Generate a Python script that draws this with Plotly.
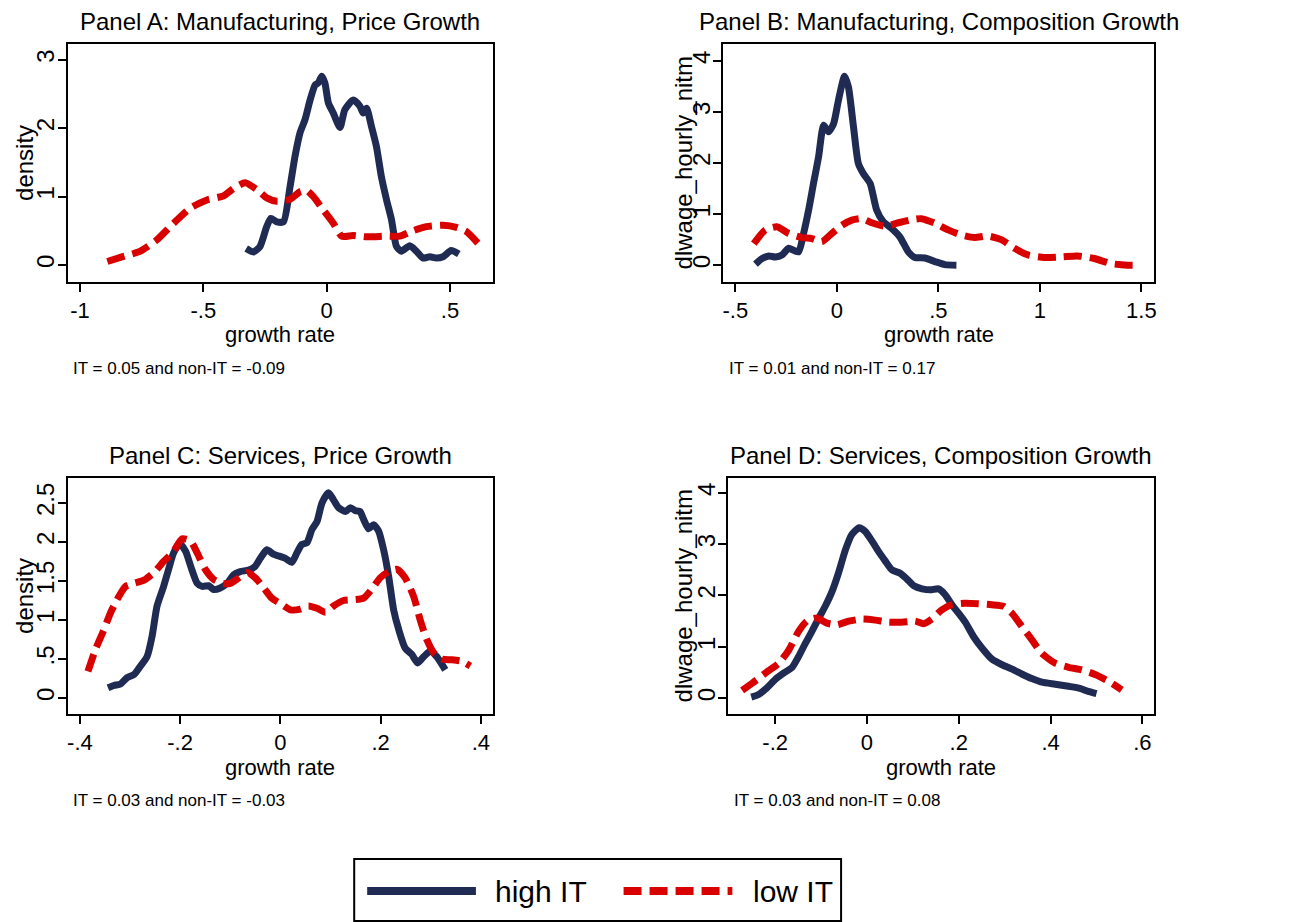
import plotly.graph_objects as go

navy = "#1f2b52"
red = "#d90000"
font = "Liberation Sans, Arial, sans-serif"

# Panel A: Manufacturing, Price Growth
a_hi_x = [-0.326, -0.296, -0.27, -0.243, -0.226, -0.202, -0.175, -0.148, -0.128, -0.108, -0.088, -0.067,
          -0.047, -0.034, -0.02, -0.007, 0.007, 0.027, 0.054, 0.074, 0.108, 0.135, 0.148, 0.162, 0.182,
          0.202, 0.222, 0.243, 0.263, 0.283, 0.303, 0.337, 0.364, 0.391, 0.418, 0.445, 0.472, 0.505, 0.536]
a_hi_y = [0.24, 0.19, 0.27, 0.56, 0.68, 0.63, 0.63, 1.15, 1.59, 1.93, 2.12, 2.41,
          2.63, 2.66, 2.76, 2.66, 2.37, 2.22, 2.01, 2.27, 2.41, 2.32, 2.22, 2.29, 2.02,
          1.73, 1.29, 0.95, 0.66, 0.27, 0.2, 0.28, 0.2, 0.1, 0.12, 0.1, 0.12, 0.21, 0.16]
a_lo_x = [-0.889, -0.836, -0.755, -0.687, -0.62, -0.553, -0.485, -0.418, -0.377, -0.33, -0.283, -0.243,
          -0.202, -0.148, -0.108, -0.081, -0.054, -0.013, 0.027, 0.061, 0.108, 0.162, 0.243, 0.296,
          0.35, 0.404, 0.472, 0.526, 0.566, 0.613]
a_lo_y = [0.05, 0.11, 0.2, 0.37, 0.61, 0.83, 0.95, 1.01, 1.12, 1.2, 1.1, 0.98,
          0.93, 0.96, 1.07, 1.09, 1.0, 0.8, 0.61, 0.42, 0.43, 0.41, 0.42, 0.42,
          0.5, 0.56, 0.58, 0.55, 0.49, 0.32]

# Panel B: Manufacturing, Composition Growth
b_hi_x = [-0.401, -0.368, -0.335, -0.303, -0.27, -0.237, -0.213, -0.188, -0.164, -0.139, -0.115, -0.09,
          -0.065, -0.041, -0.016, 0.008, 0.038, 0.057, 0.082, 0.106, 0.131, 0.164, 0.196, 0.229, 0.27,
          0.311, 0.352, 0.384, 0.434, 0.483, 0.532, 0.589]
b_hi_y = [0.02, 0.13, 0.18, 0.16, 0.2, 0.33, 0.29, 0.26, 0.62, 1.08, 1.6, 2.12,
          2.74, 2.61, 2.77, 3.23, 3.7, 3.49, 2.71, 1.99, 1.79, 1.6, 1.08, 0.85, 0.72,
          0.55, 0.26, 0.15, 0.14, 0.07, 0.01, 0.0]
b_lo_x = [-0.409, -0.352, -0.295, -0.237, -0.172, -0.123, -0.074, -0.025, 0.025, 0.074, 0.123, 0.172,
          0.237, 0.303, 0.368, 0.417, 0.483, 0.548, 0.613, 0.679, 0.744, 0.81, 0.875, 0.941, 1.022,
          1.104, 1.186, 1.268, 1.35, 1.432, 1.497]
b_lo_y = [0.42, 0.69, 0.75, 0.62, 0.54, 0.52, 0.46, 0.62, 0.78, 0.88, 0.91, 0.83,
          0.76, 0.83, 0.89, 0.91, 0.82, 0.69, 0.59, 0.54, 0.57, 0.5, 0.33, 0.2, 0.15,
          0.16, 0.18, 0.13, 0.03, 0.0, 0.0]

# Panel C: Services, Price Growth
c_hi_x = [-0.344, -0.332, -0.319, -0.306, -0.292, -0.279, -0.266, -0.256, -0.246, -0.233, -0.223, -0.213,
          -0.201, -0.189, -0.179, -0.166, -0.156, -0.143, -0.133, -0.12, -0.106, -0.093, -0.08, -0.063,
          -0.05, -0.04, -0.027, -0.013, -0.003, 0.01, 0.023, 0.033, 0.043, 0.053, 0.063, 0.073, 0.083,
          0.096, 0.106, 0.116, 0.13, 0.14, 0.15, 0.159, 0.166, 0.176, 0.186, 0.196, 0.206, 0.216, 0.226,
          0.236, 0.249, 0.262, 0.274, 0.286, 0.299, 0.312, 0.329]
c_hi_y = [0.13, 0.16, 0.18, 0.26, 0.3, 0.41, 0.53, 0.79, 1.18, 1.43, 1.65, 1.86,
          1.98, 1.88, 1.69, 1.47, 1.43, 1.44, 1.39, 1.41, 1.47, 1.58, 1.62, 1.64,
          1.69, 1.79, 1.9, 1.84, 1.82, 1.79, 1.74, 1.86, 1.97, 1.99, 2.16, 2.26, 2.5,
          2.63, 2.54, 2.44, 2.39, 2.44, 2.4, 2.39, 2.29, 2.17, 2.22, 2.14, 1.9, 1.56, 1.13,
          0.88, 0.64, 0.56, 0.45, 0.53, 0.6, 0.53, 0.36]
c_lo_x = [-0.384, -0.369, -0.355, -0.339, -0.326, -0.309, -0.292, -0.272, -0.252, -0.233, -0.213, -0.196,
          -0.179, -0.166, -0.15, -0.133, -0.116, -0.1, -0.083, -0.066, -0.05, -0.033, -0.017, 0.0,
          0.02, 0.04, 0.056, 0.073, 0.09, 0.106, 0.126, 0.146, 0.166, 0.183, 0.199, 0.216, 0.233,
          0.249, 0.266, 0.279, 0.292, 0.306, 0.322, 0.342, 0.362, 0.379]
c_lo_y = [0.34, 0.62, 0.83, 1.09, 1.26, 1.43, 1.47, 1.51, 1.61, 1.75, 1.88, 2.04,
          2.01, 1.86, 1.65, 1.52, 1.47, 1.47, 1.54, 1.61, 1.54, 1.41, 1.28, 1.21,
          1.13, 1.14, 1.18, 1.15, 1.1, 1.18, 1.25, 1.26, 1.28, 1.4, 1.54, 1.62, 1.65,
          1.54, 1.3, 1.0, 0.75, 0.58, 0.5, 0.49, 0.47, 0.41]

# Panel D: Services, Composition Growth
d_hi_x = [-0.252, -0.236, -0.218, -0.199, -0.181, -0.163, -0.149, -0.134, -0.12, -0.105, -0.091, -0.076,
          -0.062, -0.047, -0.033, -0.017, -0.004, 0.011, 0.025, 0.04, 0.054, 0.073, 0.087, 0.102,
          0.12, 0.138, 0.156, 0.17, 0.185, 0.199, 0.214, 0.232, 0.25, 0.272, 0.294, 0.315, 0.337,
          0.359, 0.381, 0.41, 0.439, 0.464, 0.482, 0.5]
d_hi_y = [0.02, 0.07, 0.2, 0.37, 0.49, 0.6, 0.81, 1.07, 1.3, 1.56, 1.79, 2.08,
          2.44, 2.89, 3.19, 3.32, 3.25, 3.06, 2.86, 2.67, 2.5, 2.43, 2.32, 2.19,
          2.13, 2.11, 2.13, 2.02, 1.82, 1.66, 1.48, 1.2, 0.98, 0.76, 0.65, 0.57, 0.47,
          0.38, 0.31, 0.27, 0.23, 0.19, 0.13, 0.085]
d_lo_x = [-0.272, -0.25, -0.221, -0.192, -0.17, -0.149, -0.131, -0.109, -0.087, -0.065, -0.04, -0.011,
          0.018, 0.047, 0.076, 0.105, 0.123, 0.141, 0.163, 0.185, 0.214, 0.243, 0.272, 0.297,
          0.315, 0.337, 0.359, 0.381, 0.41, 0.439, 0.468, 0.497, 0.526, 0.555]
d_lo_y = [0.15, 0.29, 0.49, 0.68, 0.94, 1.3, 1.5, 1.56, 1.46, 1.43, 1.5, 1.54,
          1.52, 1.48, 1.48, 1.5, 1.45, 1.54, 1.72, 1.82, 1.85, 1.84, 1.82, 1.79,
          1.66, 1.4, 1.14, 0.87, 0.68, 0.6, 0.55, 0.46, 0.33, 0.16]

titles = ["Panel A: Manufacturing, Price Growth", "Panel B: Manufacturing, Composition Growth",
          "Panel C: Services, Price Growth", "Panel D: Services, Composition Growth"]
notes = ["IT = 0.05 and non-IT = -0.09", "IT = 0.01 and non-IT = 0.17",
         "IT = 0.03 and non-IT = -0.03", "IT = 0.03 and non-IT = 0.08"]
ytitles = ["density", "dlwage_hourly_nitm", "density", "dlwage_hourly_nitm"]
xticks = [[-1, -0.5, 0, 0.5], [-0.5, 0, 0.5, 1, 1.5], [-0.4, -0.2, 0, 0.2, 0.4], [-0.2, 0, 0.2, 0.4, 0.6]]
xticktext = [["-1", "-.5", "0", ".5"], ["-.5", "0", ".5", "1", "1.5"],
             ["-.4", "-.2", "0", ".2", ".4"], ["-.2", "0", ".2", ".4", ".6"]]
yticks = [[0, 1, 2, 3], [0, 1, 2, 3, 4], [0, 0.5, 1, 1.5, 2, 2.5], [0, 1, 2, 3, 4]]
yticktext = [["0", "1", "2", "3"], ["0", "1", "2", "3", "4"],
             ["0", ".5", "1", "1.5", "2", "2.5"], ["0", "1", "2", "3", "4"]]

series = [(a_hi_x, a_hi_y, a_lo_x, a_lo_y), (b_hi_x, b_hi_y, b_lo_x, b_lo_y),
          (c_hi_x, c_hi_y, c_lo_x, c_lo_y), (d_hi_x, d_hi_y, d_lo_x, d_lo_y)]

# the page body has an 8px margin, so the figure is sized to fit inside it
W, H = 1304, 914
OFF = 8


def px(x):
    return (x - OFF) / W


def py(y):
    return 1 - (y - OFF) / H


# panel boxes in page pixels: left, right, top, bottom
boxes = [(67, 493, 44, 282), (724, 1156, 44, 282), (67, 493, 478, 714), (729, 1156, 478, 714)]
xranges = [[-1.049, 0.674], [-0.559, 1.564], [-0.424, 0.424], [-0.302, 0.626]]
yranges = [[-0.25, 3.23], [-0.33, 4.33], [-0.205, 2.82], [-0.31, 4.29]]
note_x = [70, 728, 70, 733]
ytitle_x = [23, 684, 23, 684]

fig = go.Figure()
annotations = []

for i in range(4):
    hx, hy, lx, ly = series[i]
    n = "" if i == 0 else str(i + 1)
    fig.add_trace(go.Scatter(x=hx, y=hy, mode="lines", name="high IT", showlegend=False,
                             line=dict(color=navy, width=7, shape="spline", smoothing=0.6),
                             xaxis="x" + n, yaxis="y" + n))
    fig.add_trace(go.Scatter(x=lx, y=ly, mode="lines", name="low IT", showlegend=False,
                             line=dict(color=red, width=7, dash="18px,8px", shape="spline", smoothing=0.6),
                             xaxis="x" + n, yaxis="y" + n))
    x0, x1, y0, y1 = boxes[i]
    ax = dict(domain=[px(x0), px(x1)], range=xranges[i], tickvals=xticks[i], ticktext=xticktext[i],
              showgrid=False, zeroline=False, showline=True, mirror=True, linecolor="black", linewidth=2,
              ticks="outside", ticklen=8, tickwidth=2, tickcolor="black",
              tickfont=dict(size=22, color="black", family=font), anchor="y" + n)
    ay = dict(domain=[py(y1), py(y0)], range=yranges[i], tickvals=yticks[i], ticktext=yticktext[i],
              showgrid=False, zeroline=False, showline=True, mirror=True, linecolor="black", linewidth=2,
              ticks="outside", ticklen=8, tickwidth=2, tickcolor="black", tickangle=-90,
              ticklabelstandoff=-6,
              tickfont=dict(size=24, color="black", family=font), anchor="x" + n)
    fig.update_layout({"xaxis" + n: ax, "yaxis" + n: ay})

    cx = (x0 + x1) / 2
    annotations.append(dict(text=titles[i], x=px(cx), y=py(y0 - 22), xref="paper", yref="paper",
                            xanchor="center", yanchor="middle", showarrow=False,
                            font=dict(size=24, color="black", family=font)))
    annotations.append(dict(text="growth rate", x=px(cx), y=py(y1 + 53), xref="paper", yref="paper",
                            xanchor="center", yanchor="middle", showarrow=False,
                            font=dict(size=22, color="black", family=font)))
    annotations.append(dict(text=ytitles[i], x=px(ytitle_x[i]), y=py((y0 + y1) / 2), xref="paper",
                            yref="paper", xanchor="center", yanchor="middle", textangle=-90, showarrow=False,
                            borderpad=0, font=dict(size=24, color="black", family=font)))
    annotations.append(dict(text=notes[i], x=px(note_x[i]), y=py(y1 + 86), xref="paper", yref="paper",
                            xanchor="left", yanchor="middle", showarrow=False,
                            font=dict(size=17, color="black", family=font)))

# legend drawn by hand so the key lines have the long sample length of the original
shapes = [
    dict(type="rect", xref="paper", yref="paper", x0=px(354), x1=px(842), y0=py(921), y1=py(859),
         line=dict(color="black", width=2), fillcolor="white"),
    dict(type="line", xref="paper", yref="paper", x0=px(367), x1=px(476), y0=py(891), y1=py(891),
         line=dict(color=navy, width=8)),
    dict(type="line", xref="paper", yref="paper", x0=px(624), x1=px(733), y0=py(891), y1=py(891),
         line=dict(color=red, width=8, dash="18px,8px")),
]
annotations.append(dict(text="high IT", x=px(493), y=py(891), xref="paper", yref="paper", xanchor="left",
                        yanchor="middle", showarrow=False, font=dict(size=30, color="black", family=font)))
annotations.append(dict(text="low IT", x=px(752), y=py(891), xref="paper", yref="paper", xanchor="left",
                        yanchor="middle", showarrow=False, font=dict(size=30, color="black", family=font)))

fig.update_layout(width=W, height=H, margin=dict(l=0, r=0, t=0, b=0), paper_bgcolor="white",
                  plot_bgcolor="white", showlegend=False, annotations=annotations, shapes=shapes,
                  font=dict(family=font, color="black"))

fig.write_html("out.html")
